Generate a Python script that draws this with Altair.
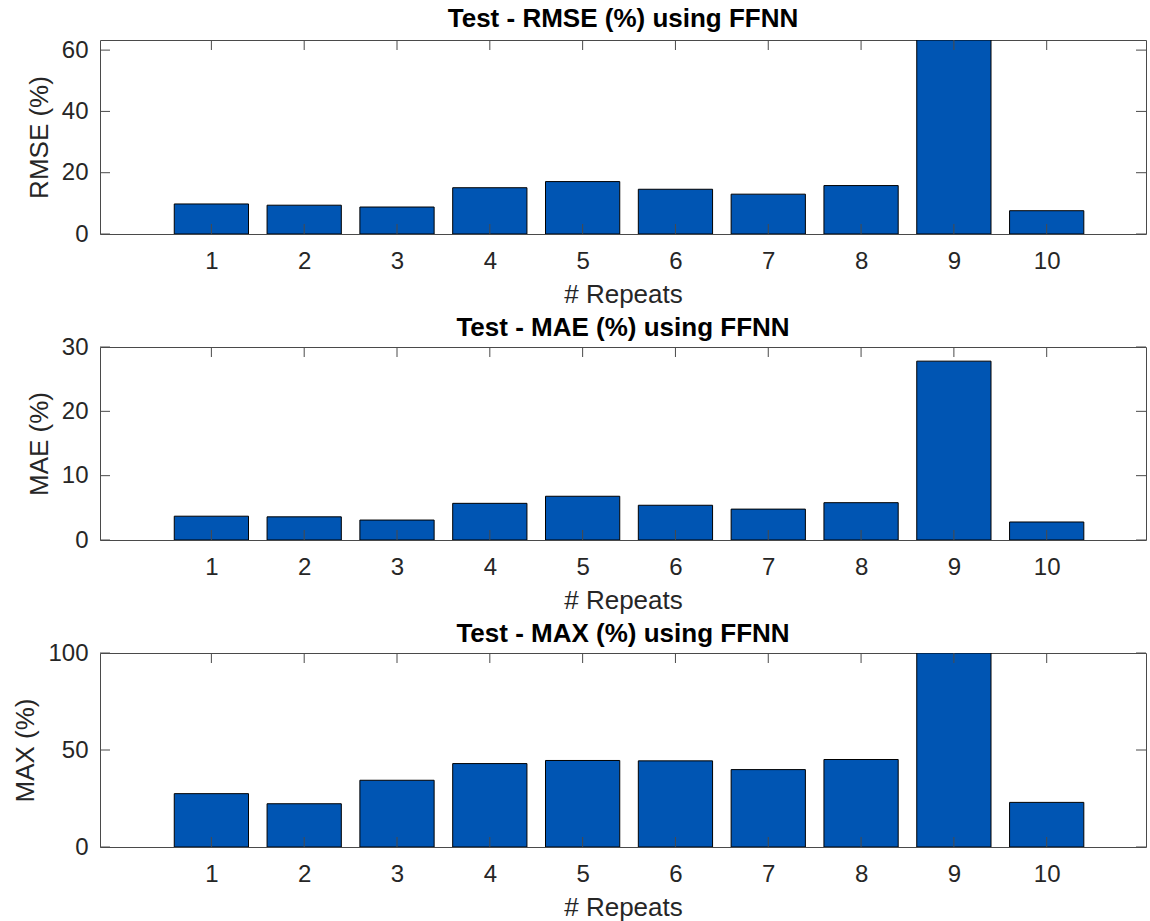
import altair as alt
import pandas as pd

# ---- data ----
repeats = [1, 2, 3, 4, 5, 6, 7, 8, 9, 10]
rmse = [9.8, 9.4, 8.8, 15.1, 17.1, 14.6, 13.0, 15.8, 63.3, 7.6]
mae = [3.7, 3.6, 3.1, 5.7, 6.8, 5.4, 4.8, 5.8, 27.8, 2.8]
maxe = [27.5, 22.3, 34.4, 43.0, 44.6, 44.4, 39.9, 45.1, 100.0, 23.0]

titles = ["Test - RMSE (%) using FFNN", "Test - MAE (%) using FFNN", "Test - MAX (%) using FFNN"]
ylabels = ["RMSE (%)", "MAE (%)", "MAX (%)"]
ymaxes = [63.3, 30, 100]
yticks = [[0, 20, 40, 60], [0, 10, 20, 30], [0, 50, 100]]
xlabel = "# Repeats"

# ---- styling ----
W = 1046
HEIGHTS = [194, 193, 194]
X_DOMAIN = [-0.2, 11.07]
FONT = "Liberation Sans"
BAR = "#0055B3"
FRAME = "#4a4a4a"
TXT = "#262626"
TICK = 10


def panel(values, title, ylabel, ymax, yt, h, title_dy=0, anchor=False):
    df = pd.DataFrame({"repeat": repeats, "value": values})
    tdf = pd.DataFrame({"t": yt})
    xs = alt.Scale(domain=X_DOMAIN, nice=False, zero=False)
    ys = alt.Scale(domain=[0, ymax], nice=False, zero=True)
    xaxis = alt.Axis(values=repeats, ticks=False, domain=False, grid=False,
                     labelFontSize=24, labelPadding=15, labelFlush=False,
                     labelOverlap=False, title=xlabel, titleFontSize=26,
                     titlePadding=8)
    yaxis = alt.Axis(values=yt, ticks=False, domain=False, grid=False,
                     labelFontSize=24, labelPadding=12, labelOverlap=False,
                     title=ylabel, titleFontSize=26, titlePadding=9)

    bars = alt.Chart(df).transform_calculate(
        x0="datum.repeat - 0.4", x1="datum.repeat + 0.4"
    ).mark_rect(color=BAR, stroke="black", strokeWidth=1, clip=True).encode(
        x=alt.X("x0:Q", scale=xs, axis=xaxis),
        x2="x1:Q",
        y=alt.Y("value:Q", scale=ys, axis=yaxis),
        y2=alt.datum(0),
    )
    xt_bot = alt.Chart(df).mark_rule(color=FRAME, strokeWidth=1).encode(
        x=alt.X("repeat:Q", scale=xs, axis=xaxis),
        y=alt.value(h), y2=alt.value(h - TICK))
    xt_top = alt.Chart(df).mark_rule(color=FRAME, strokeWidth=1).encode(
        x=alt.X("repeat:Q", scale=xs, axis=xaxis),
        y=alt.value(0), y2=alt.value(TICK))
    yt_left = alt.Chart(tdf).mark_rule(color=FRAME, strokeWidth=1).encode(
        y=alt.Y("t:Q", scale=ys, axis=yaxis),
        x=alt.value(0), x2=alt.value(TICK))
    yt_right = alt.Chart(tdf).mark_rule(color=FRAME, strokeWidth=1).encode(
        y=alt.Y("t:Q", scale=ys, axis=yaxis),
        x=alt.value(W - TICK), x2=alt.value(W))
    layers = [bars, xt_bot, xt_top, yt_left, yt_right]
    if anchor:
        anc = alt.Chart(tdf).mark_rule(opacity=0, strokeOpacity=0).encode(
            x=alt.value(-99), x2=alt.value(-99),
            y=alt.value(20), y2=alt.value(30))
        layers.append(anc)
    return alt.layer(*layers).properties(
        width=W, height=h,
        title=alt.TitleParams(text=title, fontSize=26, font=FONT,
                              fontWeight="bold", color="black", offset=6,
                              dy=title_dy, anchor="middle", frame="group"),
    )


p1 = panel(rmse, titles[0], ylabels[0], ymaxes[0], yticks[0], HEIGHTS[0], anchor=True)
p2 = panel(mae, titles[1], ylabels[1], ymaxes[1], yticks[1], HEIGHTS[1], title_dy=12)
p3 = panel(maxe, titles[2], ylabels[2], ymaxes[2], yticks[2], HEIGHTS[2], title_dy=12)

chart = alt.vconcat(p1, p2, p3, spacing=113, bounds="flush").resolve_scale(
    x="independent", y="independent"
).properties(
    padding={"left": 0, "top": 5, "right": 2, "bottom": 2},
    background="white",
).configure_view(
    stroke=FRAME, strokeWidth=1
).configure_axis(
    labelFont=FONT, titleFont=FONT, labelColor=TXT, titleColor=TXT,
    titleFontWeight="normal",
)

chart.save("out.html", embed_options={"renderer": "svg", "actions": False})
